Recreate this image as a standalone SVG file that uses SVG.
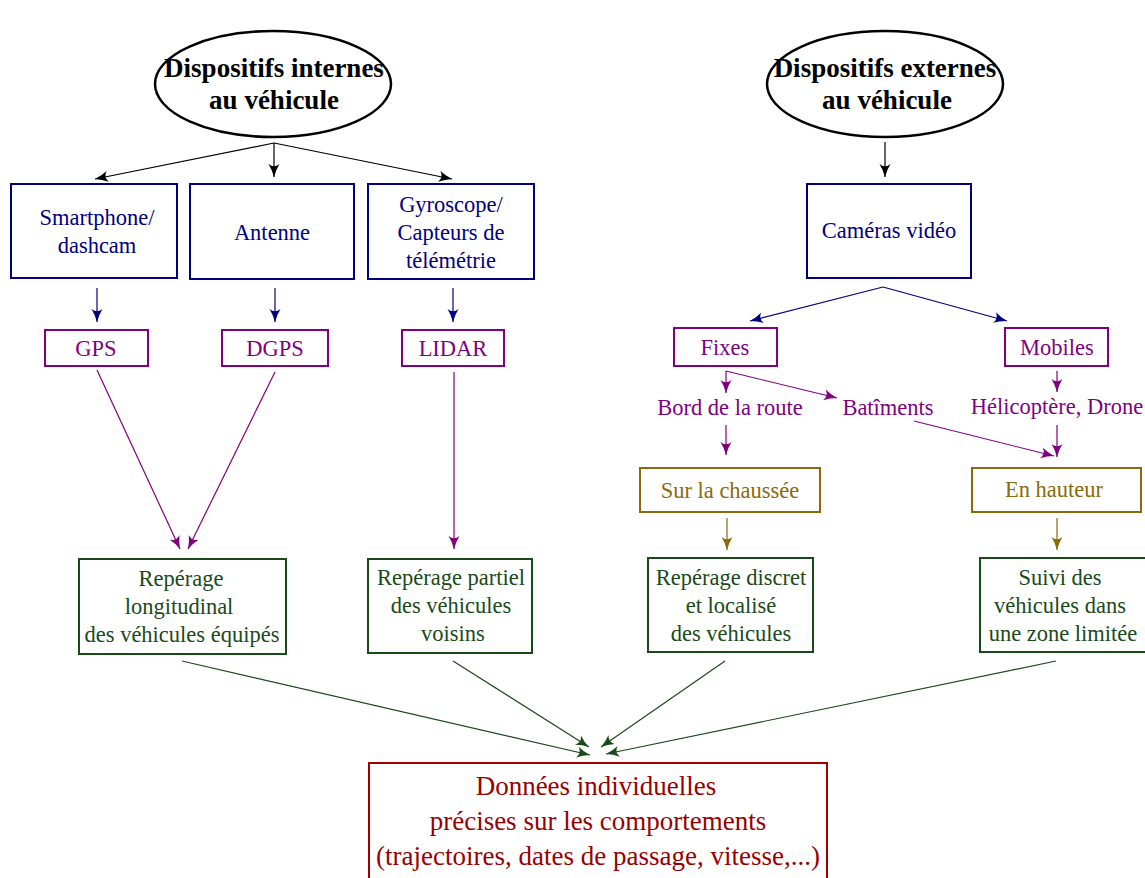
<svg xmlns="http://www.w3.org/2000/svg" width="1145" height="878" viewBox="0 0 1145 878">
<defs>
<style>
text{font-family:"Liberation Serif","Times New Roman",serif;font-size:22.5px;text-anchor:middle}
.title{font-size:27px;font-weight:bold;fill:#000}
.blue{fill:#000080}.purple{fill:#800080}.gold{fill:#8a6a0a}.green{fill:#1a4a1a}.red{fill:#990000;font-size:27px}
.bbox{fill:none;stroke:#000080;stroke-width:2}
.pbox{fill:none;stroke:#800080;stroke-width:2}
.gbox{fill:none;stroke:#8a6a0a;stroke-width:2}
.grbox{fill:none;stroke:#1a4a1a;stroke-width:2}
.rbox{fill:none;stroke:#a00000;stroke-width:2}
.ell{fill:none;stroke:#000;stroke-width:2.5}
.c{fill:none;stroke-width:1.2}
.ck{stroke:#000}.cb{stroke:#000080}.cp{stroke:#800080}.cg{stroke:#8a6a0a}.cgr{stroke:#1a4a1a}
</style>
<marker id="ak" viewBox="-14 -7 15 14" refX="0" refY="0" markerWidth="15" markerHeight="14" markerUnits="userSpaceOnUse" orient="auto"><path d="M0,0 Q-7,-1.8 -13,-5.5 Q-8.5,0 -13,5.5 Q-7,1.8 0,0 Z" fill="#000"/></marker>
<marker id="ab" viewBox="-14 -7 15 14" refX="0" refY="0" markerWidth="15" markerHeight="14" markerUnits="userSpaceOnUse" orient="auto"><path d="M0,0 Q-7,-1.8 -13,-5.5 Q-8.5,0 -13,5.5 Q-7,1.8 0,0 Z" fill="#000080"/></marker>
<marker id="ap" viewBox="-14 -7 15 14" refX="0" refY="0" markerWidth="15" markerHeight="14" markerUnits="userSpaceOnUse" orient="auto"><path d="M0,0 Q-7,-1.8 -13,-5.5 Q-8.5,0 -13,5.5 Q-7,1.8 0,0 Z" fill="#800080"/></marker>
<marker id="ag" viewBox="-14 -7 15 14" refX="0" refY="0" markerWidth="15" markerHeight="14" markerUnits="userSpaceOnUse" orient="auto"><path d="M0,0 Q-7,-1.8 -13,-5.5 Q-8.5,0 -13,5.5 Q-7,1.8 0,0 Z" fill="#8a6a0a"/></marker>
<marker id="agr" viewBox="-14 -7 15 14" refX="0" refY="0" markerWidth="15" markerHeight="14" markerUnits="userSpaceOnUse" orient="auto"><path d="M0,0 Q-7,-1.8 -13,-5.5 Q-8.5,0 -13,5.5 Q-7,1.8 0,0 Z" fill="#1a4a1a"/></marker>
</defs>
<rect width="1145" height="878" fill="#fff"/>

<g id="connectors">
<line class="c ck" x1="274" y1="143" x2="95" y2="179" marker-end="url(#ak)"/>
<line class="c ck" x1="274" y1="143" x2="274" y2="177" marker-end="url(#ak)"/>
<line class="c ck" x1="274" y1="143" x2="452" y2="179" marker-end="url(#ak)"/>
<line class="c ck" x1="885" y1="142" x2="885" y2="177" marker-end="url(#ak)"/>
<line class="c cb" x1="97" y1="288" x2="97" y2="322" marker-end="url(#ab)"/>
<line class="c cb" x1="275" y1="288" x2="275" y2="322" marker-end="url(#ab)"/>
<line class="c cb" x1="453" y1="288" x2="453" y2="322" marker-end="url(#ab)"/>
<line class="c cb" x1="883" y1="287" x2="750" y2="321" marker-end="url(#ab)"/>
<line class="c cb" x1="883" y1="287" x2="1007" y2="321" marker-end="url(#ab)"/>
<line class="c cp" x1="97" y1="370" x2="180" y2="549" marker-end="url(#ap)"/>
<line class="c cp" x1="275" y1="372" x2="188" y2="549" marker-end="url(#ap)"/>
<line class="c cp" x1="454" y1="372" x2="454" y2="549" marker-end="url(#ap)"/>
<line class="c cp" x1="726" y1="371" x2="726" y2="393" marker-end="url(#ap)"/>
<line class="c cp" x1="726" y1="371" x2="837" y2="398" marker-end="url(#ap)"/>
<line class="c cp" x1="1057" y1="371" x2="1057" y2="392" marker-end="url(#ap)"/>
<line class="c cp" x1="726" y1="425" x2="726" y2="455" marker-end="url(#ap)"/>
<line class="c cp" x1="1057" y1="425" x2="1057" y2="457" marker-end="url(#ap)"/>
<line class="c cp" x1="914" y1="421" x2="1054" y2="456" marker-end="url(#ap)"/>
<line class="c cg" x1="727" y1="518" x2="727" y2="550" marker-end="url(#ag)"/>
<line class="c cg" x1="1057" y1="518" x2="1057" y2="550" marker-end="url(#ag)"/>
<line class="c cgr" x1="182" y1="661" x2="590" y2="755" marker-end="url(#agr)"/>
<line class="c cgr" x1="453" y1="661" x2="589" y2="747" marker-end="url(#agr)"/>
<line class="c cgr" x1="725" y1="661" x2="601" y2="747" marker-end="url(#agr)"/>
<line class="c cgr" x1="1056" y1="661" x2="606" y2="754" marker-end="url(#agr)"/>
</g>

<g id="internes">
<ellipse class="ell" cx="273" cy="84" rx="118" ry="53"/>
<text class="title" x="274" y="77">Dispositifs internes</text>
<text class="title" x="274" y="109">au véhicule</text>
</g>
<g id="externes">
<ellipse class="ell" cx="885" cy="84" rx="118" ry="53"/>
<text class="title" x="885" y="77">Dispositifs externes</text>
<text class="title" x="887" y="109">au véhicule</text>
</g>

<g id="smartphone">
<rect class="bbox" x="11" y="184" width="166" height="94"/>
<text class="blue" x="97" y="225">Smartphone/</text>
<text class="blue" x="97" y="253">dashcam</text>
</g>
<g id="antenne">
<rect class="bbox" x="190" y="184" width="164" height="95"/>
<text class="blue" x="272" y="240">Antenne</text>
</g>
<g id="gyroscope">
<rect class="bbox" x="368" y="184" width="166" height="95"/>
<text class="blue" x="451" y="212">Gyroscope/</text>
<text class="blue" x="451" y="240">Capteurs de</text>
<text class="blue" x="451" y="268">télémétrie</text>
</g>
<g id="cameras">
<rect class="bbox" x="807" y="184" width="164" height="94"/>
<text class="blue" x="889" y="238">Caméras vidéo</text>
</g>

<g id="gps">
<rect class="pbox" x="45" y="330" width="103" height="36"/>
<text class="purple" x="96" y="356">GPS</text>
</g>
<g id="dgps">
<rect class="pbox" x="222" y="330" width="106" height="36"/>
<text class="purple" x="275" y="356">DGPS</text>
</g>
<g id="lidar">
<rect class="pbox" x="402" y="330" width="102" height="36"/>
<text class="purple" x="453" y="356">LIDAR</text>
</g>
<g id="fixes">
<rect class="pbox" x="674" y="328" width="103" height="38"/>
<text class="purple" x="725" y="355">Fixes</text>
</g>
<g id="mobiles">
<rect class="pbox" x="1005" y="328" width="103" height="38"/>
<text class="purple" x="1057" y="355">Mobiles</text>
</g>
<g id="bord">
<text class="purple" x="730" y="415">Bord de la route</text>
</g>
<g id="batiments">
<text class="purple" x="888" y="415">Batîments</text>
</g>
<g id="helico">
<text class="purple" x="1057" y="414">Hélicoptère, Drone</text>
</g>

<g id="chaussee">
<rect class="gbox" x="640" y="468" width="180" height="44"/>
<text class="gold" x="730" y="498">Sur la chaussée</text>
</g>
<g id="hauteur">
<rect class="gbox" x="972" y="468" width="169" height="44"/>
<text class="gold" x="1054" y="497">En hauteur</text>
</g>

<g id="longitudinal">
<rect class="grbox" x="79" y="559" width="207" height="95"/>
<text class="green" x="181" y="586">Repérage</text>
<text class="green" x="179" y="614">longitudinal</text>
<text class="green" x="182" y="642">des véhicules équipés</text>
</g>
<g id="partiel">
<rect class="grbox" x="368" y="559" width="164" height="94"/>
<text class="green" x="451" y="585">Repérage partiel</text>
<text class="green" x="451" y="613">des véhicules</text>
<text class="green" x="453" y="641">voisins</text>
</g>
<g id="discret">
<rect class="grbox" x="648" y="558" width="165" height="94"/>
<text class="green" x="731" y="585">Repérage discret</text>
<text class="green" x="731" y="613">et localisé</text>
<text class="green" x="731" y="641">des véhicules</text>
</g>
<g id="suivi">
<rect class="grbox" x="980" y="558" width="175" height="94"/>
<text class="green" x="1060" y="585">Suivi des</text>
<text class="green" x="1060" y="613">véhicules dans</text>
<text class="green" x="1063" y="641">une zone limitée</text>
</g>

<g id="donnees">
<rect class="rbox" x="369" y="763" width="458" height="130"/>
<text class="red" x="596" y="795">Données individuelles</text>
<text class="red" x="598" y="830">précises sur les comportements</text>
<text class="red" x="598" y="865">(trajectoires, dates de passage, vitesse,...)</text>
</g>
</svg>
